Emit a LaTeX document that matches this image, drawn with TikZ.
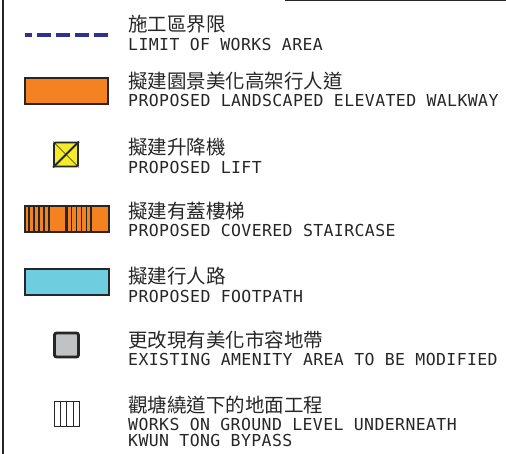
\documentclass[tikz,border=0pt]{standalone}
\usepackage{fontspec}
\usetikzlibrary{calc}
\newfontfamily\cjk{Noto Sans CJK TC}
\newfontfamily\enf{DejaVu Sans Mono}[LetterSpace=2.4]
\definecolor{lorange}{HTML}{F58220}
\definecolor{lblue}{HTML}{6ECEDF}
\definecolor{lyellow}{HTML}{F5EB2A}
\definecolor{lgrey}{HTML}{C0C2C4}
\definecolor{dashblue}{HTML}{2E3192}
\definecolor{edge}{HTML}{262626}
\tikzset{
  zh/.style={anchor=base west, inner sep=0pt, font=\cjk\fontsize{19.5}{20}\selectfont, text=black!85},
  en/.style={anchor=base west, inner sep=0pt, font=\enf\fontsize{16.5}{16}\selectfont, text=black!85},
  barbox/.style={draw=edge, line width=2pt},
}
\begin{document}
\begin{tikzpicture}[x=1pt,y=-1pt]
\useasboundingbox (0,0) rectangle (506,454);
% frame lines
\draw[edge, line width=2pt] (2.5,0) -- (2.5,454);
\draw[edge, line width=1.5pt] (285,0.75) -- (506,0.75);
% row 1 dashed line
\coordinate (d1) at (25,35);
\coordinate (d2) at (108,35);
\draw[dashblue, line width=3.6pt, dash pattern=on 14.5pt off 4.5pt, dash phase=7.5pt] (d1) -- (d2);
\node[zh] (z1) at (128,32) {施工區界限};
\node[en] (e1) at (128,51) {LIMIT OF WORKS AREA};
% row 2 walkway
\node[barbox, fill=lorange, minimum width=83pt, minimum height=26pt, inner sep=0pt] (s2) at (66,91.5) {};
\node[zh] (z2) at (128,88.5) {擬建園景美化高架行人道};
\node[en] (e2) at (128,106.7) {PROPOSED LANDSCAPED ELEVATED WALKWAY};
% row 3 lift
\node[draw=edge, line width=1.8pt, fill=lyellow, rounded corners=1.5pt, minimum size=24pt, inner sep=0pt] (s3) at (66,154.5) {};
\draw[edge, line width=0.6pt] (s3.north west) -- (s3.south east);
\draw[edge, line width=1.8pt] (s3.south west) -- (s3.north east);
\node[zh] (z3) at (128,155) {擬建升降機};
\node[en] (e3) at (128,173.3) {PROPOSED LIFT};
% row 4 staircase
\node[barbox, fill=lorange, minimum width=84pt, minimum height=26pt, inner sep=0pt] (s4) at (66.5,219.5) {};
\foreach \x/\w in {29/1.6, 34/1.6, 39/1.6, 44/1.6, 49.3/2.2, 66.5/2.2, 71.5/1.6, 76.5/1.6, 81.5/1.6, 86.5/1.6, 90.8/2.2}
  \draw[edge, line width=\w pt] (\x,206.5) -- (\x,232.5);
\node[zh] (z4) at (128,218.5) {擬建有蓋樓梯};
\node[en] (e4) at (128,236.5) {PROPOSED COVERED STAIRCASE};
% row 5 footpath
\node[barbox, fill=lblue, minimum width=84pt, minimum height=26pt, inner sep=0pt] (s5) at (66.5,282.5) {};
\node[zh] (z5) at (128,284) {擬建行人路};
\node[en] (e5) at (128,302) {PROPOSED FOOTPATH};
% row 6 amenity
\node[draw=edge, line width=2.8pt, fill=lgrey, rounded corners=2pt, minimum size=24pt, inner sep=0pt] (s6) at (66.5,345) {};
\node[zh] (z6) at (128,347) {更改現有美化市容地帶};
\node[en] (e6) at (128,365) {EXISTING AMENITY AREA TO BE MODIFIED};
% row 7 hatch
\node[draw=edge, line width=0.8pt, minimum size=25pt, inner sep=0pt] (s7) at (66.5,413.5) {};
\foreach \f in {0.25,0.5,0.75}
  \draw[edge, line width=0.6pt] ($(s7.north west)!\f!(s7.north east)$) -- ($(s7.south west)!\f!(s7.south east)$);
\node[zh] (z7) at (128,412.5) {觀塘繞道下的地面工程};
\node[en] (e7) at (128,430) {WORKS ON GROUND LEVEL UNDERNEATH};
\node[en] (e8) at (128,446) {KWUN TONG BYPASS};
\end{tikzpicture}
\end{document}
